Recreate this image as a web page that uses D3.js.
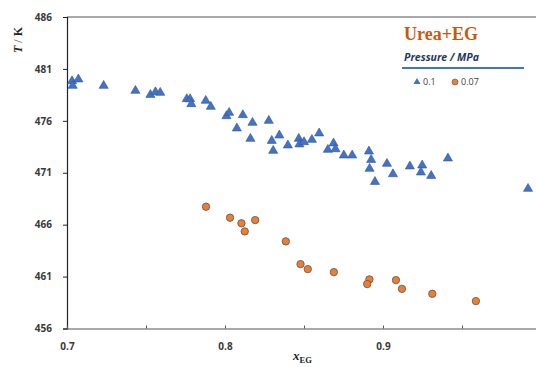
<!DOCTYPE html>
<html>
<head>
<meta charset="utf-8">
<script src="https://cdn.jsdelivr.net/npm/d3@7"></script>
<style>
  body { margin: 0; background: #fff; }
  svg { display: block; }
</style>
</head>
<body>
<div id="chart"></div>
<script>
"use strict";

// P = 0.1 MPa (triangles)
var xTri = [0.7032, 0.7036, 0.7072, 0.7232, 0.7433, 0.7528, 0.756, 0.759, 0.7758, 0.7779,
  0.7787, 0.7878, 0.791, 0.8009, 0.8026, 0.8075, 0.8113, 0.8174, 0.8277, 0.8161,
  0.8296, 0.8344, 0.8305, 0.8398, 0.8467, 0.8471, 0.85, 0.855, 0.8596, 0.8651,
  0.8687, 0.8699, 0.8752, 0.8805, 0.8911, 0.8925, 0.8915, 0.8949, 0.9025, 0.9063,
  0.917, 0.9248, 0.924, 0.9305, 0.9411, 0.9918];
var tTri = [479.83, 479.38, 480.0, 479.38, 478.9, 478.51, 478.77, 478.71, 478.1, 478.1,
  477.62, 477.94, 477.36, 476.46, 476.78, 475.28, 476.56, 475.82, 476.01, 474.28,
  474.08, 474.6, 473.12, 473.64, 474.28, 473.74, 473.96, 474.18, 474.8, 473.22,
  473.83, 473.28, 472.68, 472.68, 473.06, 472.25, 471.39, 470.13, 471.87, 470.87,
  471.62, 471.71, 471.04, 470.71, 472.39, 469.46];

// P = 0.07 MPa (circles)
var xCirc = [0.788, 0.8032, 0.8104, 0.8191, 0.8125, 0.8385, 0.8478, 0.8524, 0.8689, 0.8914,
  0.89, 0.9082, 0.912, 0.9312, 0.9588];
var tCirc = [467.73, 466.67, 466.13, 466.44, 465.35, 464.39, 462.2, 461.72, 461.43, 460.73,
  460.28, 460.66, 459.82, 459.34, 458.64];

var xTicks = [0.7, 0.75, 0.8, 0.85, 0.9, 0.95];
var xTickLabels = ["0.7", "", "0.8", "", "0.9", ""];
var yTicks = [456, 461, 466, 471, 476, 481, 486];

var W = 536, H = 367;
var margin = { top: 17, left: 67 };
var plotH = 311.5;
var plotW = 474;

var svg = d3.select("#chart").append("svg")
  .attr("width", W)
  .attr("height", H);

var x = d3.scaleLinear().domain([0.7, 1.0]).range([margin.left, margin.left + plotW]);
var y = d3.scaleLinear().domain([456, 486]).range([margin.top + plotH, margin.top]);

// top border
svg.append("line")
  .attr("x1", margin.left).attr("x2", W)
  .attr("y1", y(486)).attr("y2", y(486))
  .attr("stroke", "#8c8c8c").attr("stroke-width", 1.5);

// y axis
var yAxis = svg.append("g")
  .attr("transform", "translate(" + margin.left + ",0)")
  .call(d3.axisLeft(y).tickValues(yTicks).tickSize(4).tickPadding(11));
yAxis.select(".domain").attr("stroke", "#222").attr("stroke-width", 1.2);
yAxis.selectAll(".tick line").attr("stroke", "#222");
yAxis.selectAll("text")
  .attr("font-family", "'Open Sans', 'Liberation Sans', sans-serif")
  .attr("font-weight", "bold")
  .attr("font-size", 10)
  .attr("fill", "#3a3a3a");

// x axis
var xAxis = svg.append("g")
  .attr("transform", "translate(0," + y(456) + ")")
  .call(d3.axisBottom(x).tickValues(xTicks)
    .tickFormat(function(d, i) { return xTickLabels[i]; })
    .tickSize(-3).tickPadding(14));
xAxis.select(".domain").attr("stroke", "#555").attr("stroke-width", 1.2);
xAxis.selectAll(".tick line").attr("stroke", "#555");
xAxis.selectAll("text")
  .attr("font-family", "'Open Sans', 'Liberation Sans', sans-serif")
  .attr("font-weight", "bold")
  .attr("font-size", 10)
  .attr("fill", "#3a3a3a");

// axis titles
var yTitle = svg.append("text")
  .attr("transform", "translate(22,40) rotate(-90)")
  .attr("text-anchor", "middle")
  .attr("font-family", "'Liberation Serif', serif")
  .attr("font-weight", "bold")
  .attr("font-size", 12)
  .attr("fill", "#222");
yTitle.append("tspan").attr("font-style", "italic").text("T");
yTitle.append("tspan").attr("font-weight", "normal").text(" / ");
yTitle.append("tspan").text("K");

var xTitle = svg.append("text")
  .attr("x", 293).attr("y", 360)
  .attr("font-family", "'Liberation Serif', serif")
  .attr("font-weight", "bold")
  .attr("font-size", 13)
  .attr("fill", "#222");
xTitle.append("tspan").attr("font-style", "italic").text("x");
xTitle.append("tspan").attr("font-size", 8.5).attr("dy", 2.5).text("EG");

// points
var tri = d3.symbol().type(d3.symbolTriangle).size(36);
var triData = xTri.map(function(d, i) { return [d, tTri[i]]; });
var circData = xCirc.map(function(d, i) { return [d, tCirc[i]]; });

svg.append("g").selectAll("path")
  .data(triData)
  .enter().append("path")
  .attr("d", tri)
  .attr("transform", function(d) { return "translate(" + x(d[0]) + "," + y(d[1]) + ")"; })
  .attr("fill", "#4472c4")
  .attr("stroke", "#2f5597")
  .attr("stroke-width", 0.6);

svg.append("g").selectAll("circle")
  .data(circData)
  .enter().append("circle")
  .attr("cx", function(d) { return x(d[0]); })
  .attr("cy", function(d) { return y(d[1]); })
  .attr("r", 3.7)
  .attr("fill", "#ed7d31")
  .attr("stroke", "#555")
  .attr("stroke-width", 0.8);

// title + legend
svg.append("text")
  .attr("x", 404).attr("y", 40)
  .attr("font-family", "'Liberation Serif', serif")
  .attr("font-weight", "bold")
  .attr("font-size", 18)
  .attr("fill", "#c55a11")
  .text("Urea+EG");

svg.append("text")
  .attr("x", 404).attr("y", 61)
  .attr("font-family", "'Open Sans', 'Liberation Sans', sans-serif")
  .attr("font-weight", "bold")
  .attr("font-style", "italic")
  .attr("font-size", 10.5)
  .attr("fill", "#1f3864")
  .text("Pressure / MPa");

svg.append("line")
  .attr("x1", 402).attr("x2", 524)
  .attr("y1", 68).attr("y2", 68)
  .attr("stroke", "#4472c4").attr("stroke-width", 1.8);

var legend = svg.append("g").attr("font-family", "'Open Sans', 'Liberation Sans', sans-serif")
  .attr("font-size", 9).attr("fill", "#404040");
legend.append("path")
  .attr("d", d3.symbol().type(d3.symbolTriangle).size(22))
  .attr("transform", "translate(417,82)")
  .attr("fill", "#4472c4");
legend.append("text").attr("x", 423).attr("y", 85).text("0.1");
legend.append("circle")
  .attr("cx", 455).attr("cy", 82).attr("r", 3)
  .attr("fill", "#ed7d31").attr("stroke", "#555").attr("stroke-width", 0.6);
legend.append("text").attr("x", 461).attr("y", 85).text("0.07");
</script>
</body>
</html>
